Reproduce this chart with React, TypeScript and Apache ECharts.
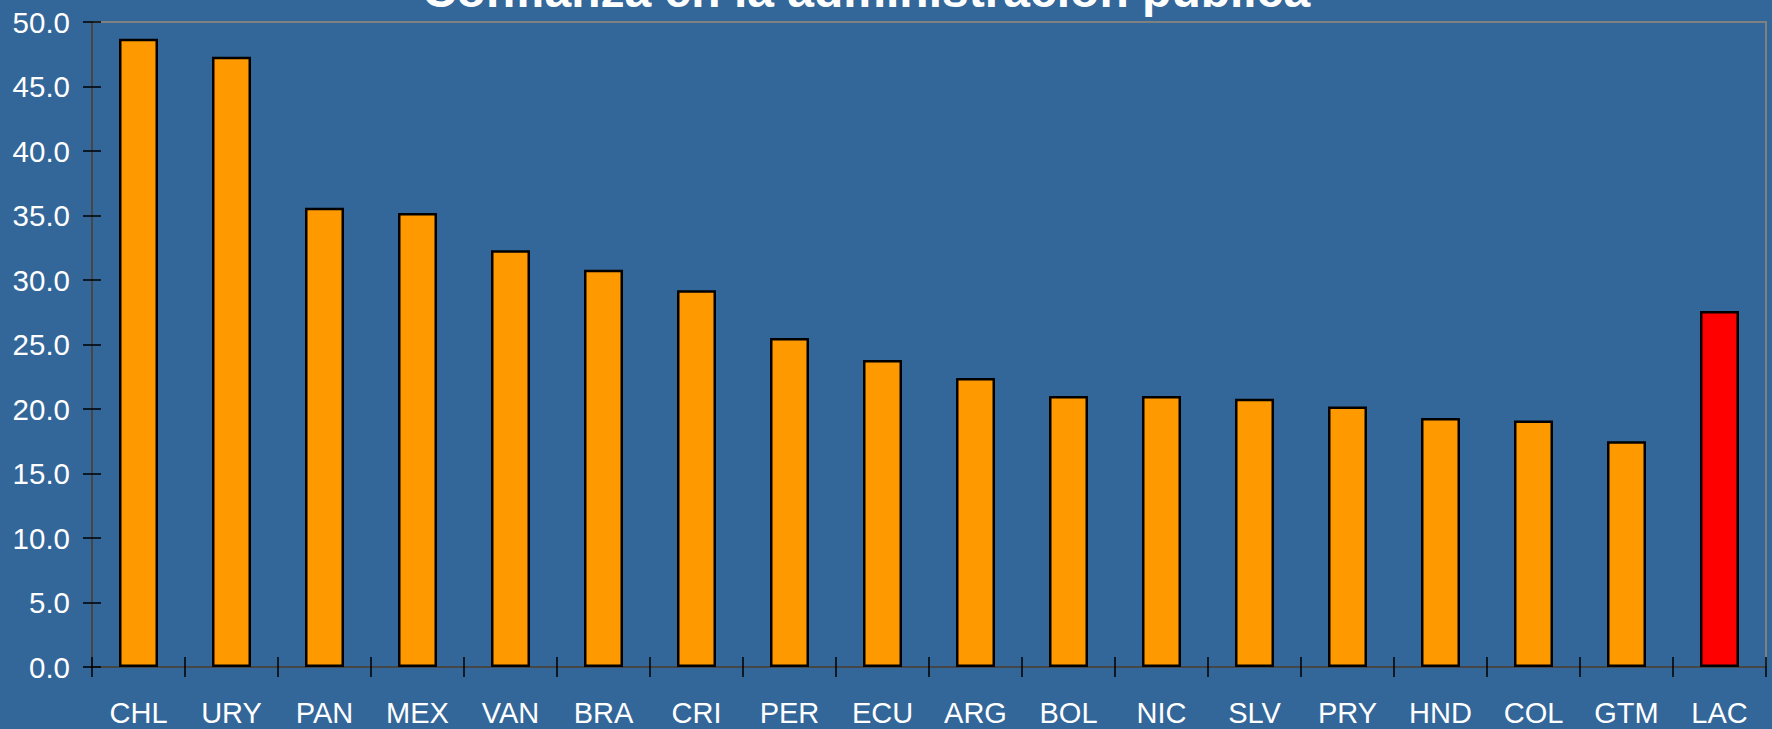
import React, { useEffect, useRef } from "react";
import * as echarts from "echarts";

const TITLE = "Confianza en la administración pública";
const categories = ["CHL", "URY", "PAN", "MEX", "VAN", "BRA", "CRI", "PER", "ECU", "ARG", "BOL", "NIC", "SLV", "PRY", "HND", "COL", "GTM", "LAC"];
const values = [48.7, 47.3, 35.6, 35.2, 32.3, 30.8, 29.2, 25.5, 23.8, 22.4, 21.0, 21.0, 20.8, 20.2, 19.3, 19.1, 17.5, 27.6];
const highlighted = ["LAC"];
const yMin = 0;
const yMax = 50;
const yInterval = 5;

const FONT = '"Liberation Sans", Arial, sans-serif';

export default function App() {
  const ref = useRef<HTMLDivElement>(null);
  useEffect(() => {
    if (!ref.current) return;
    const chart = echarts.init(ref.current, null, { renderer: "svg" });
    const data = values.map((v, i) =>
      highlighted.includes(categories[i]) ? { value: v, itemStyle: { color: "#FF0000" } } : v
    );
    const tickStyle = { color: "#000000", width: 1.5 };
    chart.setOption({
      animation: false,
      backgroundColor: "#336699",
      textStyle: { fontFamily: FONT },
      graphic: [
        {
          type: "text",
          x: 866,
          y: -10,
          style: {
            text: TITLE,
            font: `bold 48px ${FONT}`,
            fill: "#FFFFFF",
            align: "center",
            verticalAlign: "middle",
          },
        },
      ],
      grid: {
        left: 92,
        right: 6,
        top: 22,
        bottom: 62,
        show: true,
        borderColor: "#808080",
        borderWidth: 2,
        backgroundColor: "transparent",
        containLabel: false,
      },
      xAxis: [
        {
          type: "category",
          data: categories,
          position: "bottom",
          axisLine: { show: true, lineStyle: { color: "#333333", width: 1.5 } },
          axisTick: { show: true, length: 10, lineStyle: tickStyle },
          axisLabel: { color: "#FFFFFF", fontSize: 29, fontFamily: FONT, margin: 31, interval: 0 },
          splitLine: { show: false },
        },
        {
          type: "category",
          data: categories,
          position: "bottom",
          axisLine: { show: false },
          axisTick: { show: true, inside: true, length: 10, lineStyle: tickStyle },
          axisLabel: { show: false },
          splitLine: { show: false },
        },
      ],
      yAxis: [
        {
          type: "value",
          min: yMin,
          max: yMax,
          interval: yInterval,
          position: "left",
          axisLine: { show: true, lineStyle: { color: "#333333", width: 1.5 } },
          axisTick: { show: true, length: 9, lineStyle: tickStyle },
          axisLabel: {
            color: "#FFFFFF",
            fontSize: 29.5,
            fontFamily: FONT,
            margin: 22,
            formatter: (v: number) => v.toFixed(1),
          },
          splitLine: { show: false },
        },
        {
          type: "value",
          min: yMin,
          max: yMax,
          interval: yInterval,
          position: "left",
          axisLine: { show: false },
          axisTick: { show: true, inside: true, length: 9, lineStyle: tickStyle },
          axisLabel: { show: false },
          splitLine: { show: false },
        },
      ],
      series: [
        {
          type: "bar",
          data,
          xAxisIndex: 0,
          yAxisIndex: 0,
          barWidth: 39,
          itemStyle: { color: "#FF9900", borderColor: "#000000", borderWidth: 2.5 },
        },
      ],
    });
    return () => chart.dispose();
  }, []);
  return (
    <div
      ref={ref}
      style={{ position: "fixed", left: 0, top: 0, width: 1772, height: 729 }}
    />
  );
}
